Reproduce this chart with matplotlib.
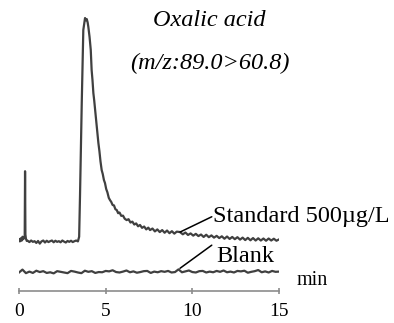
import matplotlib.pyplot as plt

# retention time (min) and intensity (arb. units)
std_time = [0.00, 0.05, 0.10, 0.15, 0.20, 0.25, 0.30, 0.33, 0.35, 0.37, 0.40, 0.45,
            0.50, 0.60, 0.70, 0.80, 0.90, 1.00, 1.10, 1.20, 1.30, 1.40, 1.50, 1.60,
            1.70, 1.80, 1.90, 2.00, 2.10, 2.20, 2.30, 2.40, 2.50, 2.60, 2.70, 2.80,
            2.90, 3.00, 3.10, 3.20, 3.30, 3.40, 3.47, 3.52, 3.62, 3.71, 3.81, 3.86,
            3.91, 3.96, 4.00, 4.07, 4.14, 4.19, 4.24, 4.29, 4.34, 4.39, 4.45, 4.52,
            4.58, 4.64, 4.70, 4.77, 4.83, 4.90, 4.96, 5.03, 5.10, 5.18, 5.25, 5.32,
            5.40, 5.48, 5.56, 5.64, 5.72, 5.80, 5.90, 6.00, 6.10, 6.21, 6.32, 6.43,
            6.54, 6.65, 6.76, 6.87, 6.98, 7.10, 7.22, 7.34, 7.46, 7.56, 7.70, 7.84,
            7.98, 8.12, 8.26, 8.40, 8.54, 8.68, 8.82, 8.96, 9.10, 9.29, 9.45, 9.60,
            9.75, 9.90, 10.05, 10.2, 10.35, 10.5, 10.65, 10.8, 10.95, 11.1, 11.25,
            11.4, 11.55, 11.7, 11.85, 12.0, 12.15, 12.3, 12.45, 12.6, 12.75, 12.9,
            13.05, 13.2, 13.35, 13.5, 13.65, 13.8, 13.95, 14.1, 14.25, 14.4, 14.55,
            14.7, 14.85, 15.0]
std_signal = [0.2, -0.6, 0.8, -0.3, 1.5, 0.4, 1.2, 2.0, 31.0, 2.5, 0.6, -0.4,
              -0.3, -0.9, -0.2, -0.8, -0.5, -1.3, -0.4, -1.6, -0.6, -0.2, -1.1, -0.3,
              -0.9, -0.5, -0.2, -1.0, -0.3, -0.8, -0.5, -1.0, -0.2, -0.7, -1.1, -0.4,
              -0.8, -0.3, -0.9, -0.5, -0.2, -0.6, 1.5, 20.0, 61.7, 94.6, 100.0, 99.0,
              99.5, 98.0, 96.0, 91.5, 85.6, 76.6, 72.0, 66.2, 62.8, 58.6, 54.0, 48.5,
              43.7, 40.0, 35.5, 31.5, 29.8, 27.0, 25.7, 23.0, 21.5, 19.0, 18.0, 17.2,
              15.8, 15.6, 13.9, 13.5, 12.1, 12.4, 10.9, 11.0, 9.6, 9.0, 9.4, 7.9,
              8.3, 7.0, 7.5, 6.2, 6.8, 5.5, 6.1, 4.8, 5.6, 4.5, 5.2, 3.9,
              4.8, 3.6, 4.5, 3.3, 4.3, 3.1, 4.0, 2.9, 3.8, 3.6, 2.6, 3.4,
              2.3, 3.0, 2.0, 2.8, 1.8, 2.5, 1.4, 2.4, 1.3, 2.1, 1.1,
              1.9, 0.9, 1.7, 0.6, 1.6, 0.5, 1.4, 0.4, 1.3, 0.2, 1.1,
              0.0, 1.0, -0.1, 0.9, -0.2, 0.8, -0.2, 0.7, -0.3, 0.7, -0.2,
              0.6, -0.3, 0.3]

blank_time = [0.0, 0.2, 0.4, 0.6, 0.8, 1.0, 1.2, 1.4, 1.6, 1.8, 2.0, 2.2, 2.4, 2.6,
              2.8, 3.0, 3.2, 3.4, 3.6, 3.8, 4.0, 4.2, 4.4, 4.6, 4.8, 5.0, 5.2, 5.4,
              5.6, 5.8, 6.0, 6.2, 6.4, 6.6, 6.8, 7.0, 7.2, 7.4, 7.6, 7.8, 8.0, 8.2,
              8.4, 8.6, 8.8, 9.0, 9.2, 9.4, 9.6, 9.8, 10.0, 10.2, 10.4, 10.6, 10.8,
              11.0, 11.2, 11.4, 11.6, 11.8, 12.0, 12.2, 12.4, 12.6, 12.8, 13.0, 13.2,
              13.4, 13.6, 13.8, 14.0, 14.2, 14.4, 14.6, 14.8, 15.0]
blank_signal = [-14.6, -13.3, -14.9, -14.2, -14.8, -13.8, -14.4, -14.0, -14.8, -14.5,
                -15.0, -14.0, -14.3, -14.6, -14.9, -13.9, -14.2, -14.6, -14.9, -13.8,
                -14.3, -14.0, -14.8, -14.4, -14.5, -13.9, -14.1, -13.6, -14.4, -14.6,
                -14.2, -13.7, -14.5, -14.1, -14.7, -14.4, -14.0, -13.9, -14.8, -14.2,
                -14.5, -14.0, -14.3, -13.9, -14.6, -14.4, -13.2, -14.5, -14.1, -13.7,
                -14.4, -14.6, -14.0, -13.9, -14.6, -14.2, -14.5, -13.9, -14.3, -13.7,
                -14.5, -14.2, -14.6, -13.9, -14.1, -13.8, -14.7, -14.3, -14.0, -13.5,
                -14.5, -14.1, -14.6, -13.9, -14.3, -14.2]

x_ticks = [0, 5, 10, 15]

line_color = '#404040'
serif = ['Liberation Serif', 'DejaVu Serif']

fig = plt.figure(figsize=(3.94, 3.23), dpi=100)
ax = fig.add_axes([0.0482, 0.1000, 0.66, 0.869])

ax.plot(std_time, std_signal, color=line_color, lw=1.6)
ax.plot(blank_time, blank_signal, color=line_color, lw=1.6)

ax.set_xlim(0, 15)
ax.set_ylim(-22.8, 103.6)

for side in ['top', 'right', 'left']:
    ax.spines[side].set_visible(False)
ax.spines['bottom'].set_color('#8c8c8c')
ax.spines['bottom'].set_linewidth(1.2)
ax.set_yticks([])
ax.set_xticks(x_ticks)
ax.set_xticklabels([str(t) for t in x_ticks], family=serif, fontsize=14)
ax.tick_params(axis='x', direction='inout', length=5, width=1.2, color='#8c8c8c',
               pad=6.5, labelcolor='black')

# leader lines + labels
ax.annotate('', xy=(9.29, 3.6), xytext=(11.12, 10.5),
            arrowprops=dict(arrowstyle='-', color='black', lw=1.1,
                            shrinkA=0, shrinkB=0), annotation_clip=False)
ax.text(11.2, 10.5, 'Standard 500\u00b5g/L', family=serif, fontsize=17.5,
        ha='left', va='center', clip_on=False)
ax.annotate('', xy=(9.29, -12.7), xytext=(11.12, -2.3),
            arrowprops=dict(arrowstyle='-', color='black', lw=1.1,
                            shrinkA=0, shrinkB=0), annotation_clip=False)
ax.text(11.4, -7.3, 'Blank', family=serif, fontsize=17.5,
        ha='left', va='center', clip_on=False)
ax.text(16.0, -18.0, 'min', family=serif, fontsize=14.5,
        ha='left', va='center', clip_on=False)

ax.text(11.0, 98.8, 'Oxalic acid', family=serif, style='italic', fontsize=17.5,
        ha='center', va='center')
ax.text(11.0, 79.7, '(m/z:89.0>60.8)', family=serif, style='italic', fontsize=17.5,
        ha='center', va='center')

fig.savefig('out.png', dpi=100)
